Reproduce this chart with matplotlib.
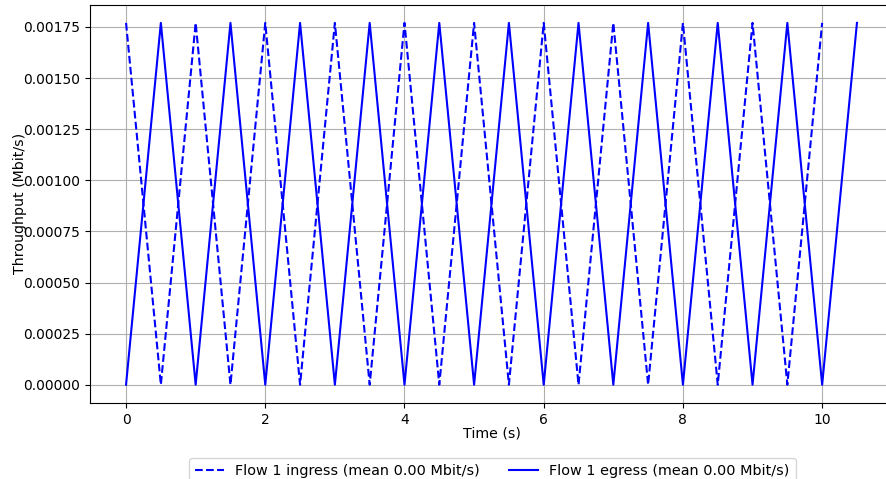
import matplotlib
matplotlib.use('Agg')
from matplotlib import pyplot as plt

# ingress: sampled every 0.5 s, 0 .. 10 s
ingress_t = [0.0, 0.5, 1.0, 1.5, 2.0, 2.5, 3.0, 3.5, 4.0, 4.5, 5.0,
             5.5, 6.0, 6.5, 7.0, 7.5, 8.0, 8.5, 9.0, 9.5, 10.0]
ingress_tput = [0.00177, 0.0, 0.00177, 0.0, 0.00177, 0.0, 0.00177, 0.0, 0.00177, 0.0, 0.00177,
                0.0, 0.00177, 0.0, 0.00177, 0.0, 0.00177, 0.0, 0.00177, 0.0, 0.00177]

# egress: sampled every 0.5 s, 0 .. 10.5 s
egress_t = [0.0, 0.5, 1.0, 1.5, 2.0, 2.5, 3.0, 3.5, 4.0, 4.5, 5.0,
            5.5, 6.0, 6.5, 7.0, 7.5, 8.0, 8.5, 9.0, 9.5, 10.0, 10.5]
egress_tput = [0.0, 0.00177, 0.0, 0.00177, 0.0, 0.00177, 0.0, 0.00177, 0.0, 0.00177, 0.0,
               0.00177, 0.0, 0.00177, 0.0, 0.00177, 0.0, 0.00177, 0.0, 0.00177, 0.0, 0.00177]

labels = ['Flow 1 ingress (mean 0.00 Mbit/s)', 'Flow 1 egress (mean 0.00 Mbit/s)']

fig = plt.figure(figsize=(8.86, 4.79), dpi=100)
# right spine falls just outside the picture, as in the reference
ax = fig.add_axes([89.5 / 886, 76.2 / 479, 804 / 886, 398 / 479])

ax.plot(ingress_t, ingress_tput, color='b', linestyle='dashed', label=labels[0])
ax.plot(egress_t, egress_tput, color='b', label=labels[1])

ax.set_xlabel('Time (s)', fontsize=10.2)
ax.set_ylabel('Throughput (Mbit/s)', fontsize=10.2)
# pin label positions (axes coords)
ax.xaxis.set_label_coords(0.5, -0.0595)
ax.yaxis.set_label_coords(-0.0777, 0.5)
ax.grid()
ax.set_xticks([0, 2, 4, 6, 8, 10])
ax.set_yticks([0, 0.00025, 0.0005, 0.00075, 0.001, 0.00125, 0.0015, 0.00175])
ax.set_yticklabels(['%.5f' % v for v in ax.get_yticks()])

ax.legend(loc='upper center', bbox_to_anchor=(0.501, -0.121), ncol=2, fontsize=10.4)

fig.savefig('out.png', dpi=100)
